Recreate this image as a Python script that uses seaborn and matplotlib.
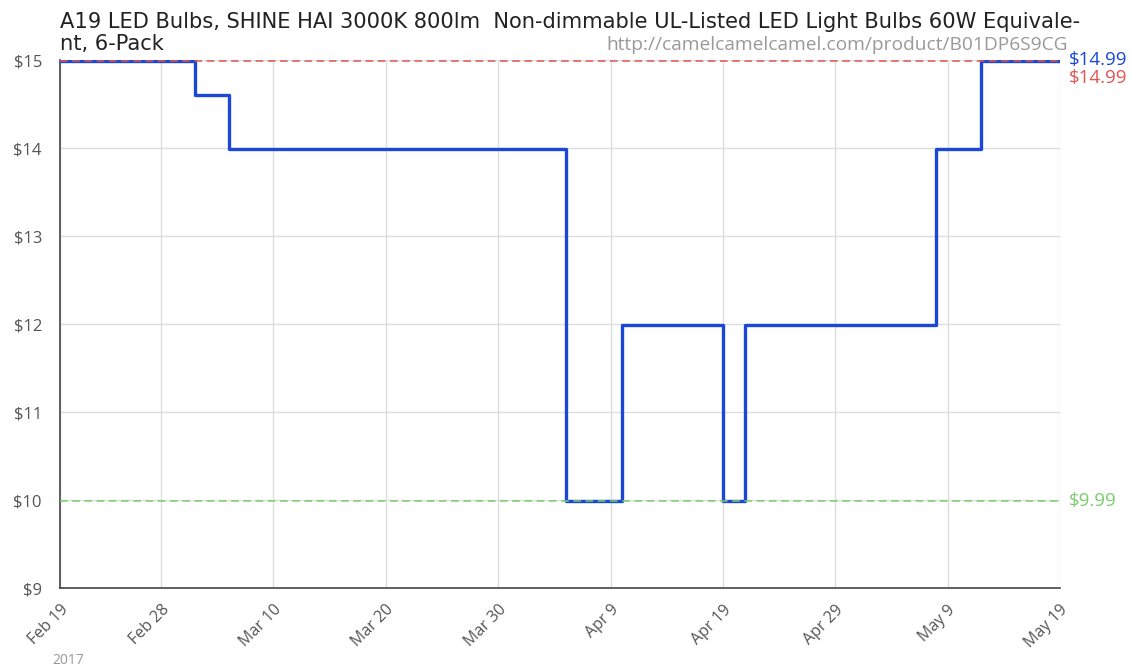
import pandas as pd
import numpy as np
import matplotlib.pyplot as plt
import seaborn as sns

# price history (step changes)
dates = ['2017-02-19', '2017-03-03', '2017-03-06', '2017-04-05', '2017-04-10',
         '2017-04-19', '2017-04-21', '2017-05-08', '2017-05-12', '2017-05-19']
prices = [14.99, 14.60, 13.99, 9.99, 11.99, 9.99, 11.99, 13.99, 14.99, 14.99]

tick_dates = ['2017-02-19', '2017-02-28', '2017-03-10', '2017-03-20', '2017-03-30',
              '2017-04-09', '2017-04-19', '2017-04-29', '2017-05-09', '2017-05-19']
tick_labels = ['Feb 19', 'Feb 28', 'Mar 10', 'Mar 20', 'Mar 30',
               'Apr 9', 'Apr 19', 'Apr 29', 'May 9', 'May 19']
y_ticks = [9, 10, 11, 12, 13, 14, 15]

max_price = 14.99
min_price = 9.99

title_lines = ['A19 LED Bulbs, SHINE HAI 3000K 800lm  Non-dimmable UL-Listed LED Light Bulbs 60W Equivale-',
               'nt, 6-Pack']
url = 'http://camelcamelcamel.com/product/B01DP6S9CG'

df = pd.DataFrame({'date': pd.to_datetime(dates), 'price': prices})

sns.set_style('white')
plt.rcParams['font.family'] = ['Open Sans', 'DejaVu Sans']

fig = plt.figure(figsize=(11.31, 6.67), dpi=100)
ax = fig.add_axes([60/1131, 1 - 588/667, 1000/1131, 528/667])

sns.lineplot(data=df, x='date', y='price', drawstyle='steps-post',
             color='#1a47d6', linewidth=2.4, ax=ax, zorder=3)

ax.axhline(max_price, color='#e05555', linestyle=(0, (5, 3)), linewidth=1.1, zorder=4)
ax.axhline(min_price, color='#7ccc6e', linestyle=(0, (5, 3)), linewidth=1.1, zorder=4)

ax.set_xlim(pd.Timestamp(tick_dates[0]), pd.Timestamp(tick_dates[-1]))
ax.set_ylim(9, 15)
ax.set_xticks(pd.to_datetime(tick_dates))
ax.set_xticklabels(tick_labels, rotation=45, ha='right', rotation_mode='anchor',
                   color='#555555', fontsize=11.5)
ax.set_yticks(y_ticks)
ax.set_yticklabels(['$%d' % v for v in y_ticks], color='#555555', fontsize=12)
ax.tick_params(axis='both', width=1, color='#444444')
ax.tick_params(axis='x', length=5, pad=5)
ax.tick_params(axis='y', length=5, pad=8)
ax.grid(True, color='#dddddd', linewidth=1)
ax.set_xlabel('')
ax.set_ylabel('')
for s in ['top', 'right']:
    ax.spines[s].set_visible(False)
for s in ['left', 'bottom']:
    ax.spines[s].set_color('#444444')
    ax.spines[s].set_linewidth(1.2)

# right side labels
ax.text(1.009, max_price + 0.01, '$14.99', transform=ax.get_yaxis_transform(),
        color='#1a47d6', fontsize=13.5, va='center', ha='left')
ax.text(1.009, max_price - 0.2, '$14.99', transform=ax.get_yaxis_transform(),
        color='#e05555', fontsize=13.5, va='center', ha='left')
ax.text(1.009, min_price, '$9.99', transform=ax.get_yaxis_transform(),
        color='#7ccc6e', fontsize=13.5, va='center', ha='left')

fig.text(60/1131, 1 - 28/667, title_lines[0], ha='left', va='baseline', fontsize=15.1,
         color='#222222', family=['DejaVu Sans'])
fig.text(60/1131, 1 - 50/667, title_lines[1], ha='left', va='baseline', fontsize=15.1,
         color='#222222', family=['DejaVu Sans'])
fig.text(1068/1131, 1 - 45/667, url, ha='right', va='center', fontsize=13.8,
         color='#999999')
fig.text(52/1131, 1 - 660/667, '2017', ha='left', va='center', fontsize=10,
         color='#999999')

fig.savefig('out.png', dpi=100)
